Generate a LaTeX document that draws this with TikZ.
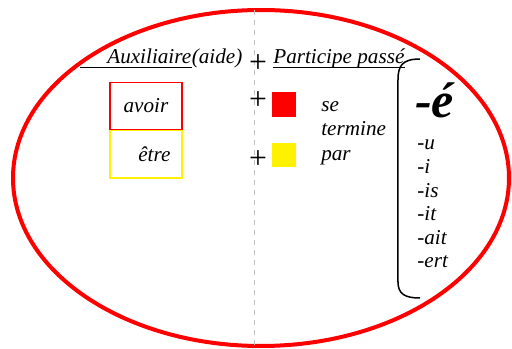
\documentclass[tikz,border=0pt]{standalone}
\usepackage{fontspec}
\setmainfont{Liberation Serif}
\usetikzlibrary{positioning}

\tikzset{
  txt/.style={font=\fontsize{12.7}{14}\selectfont\itshape, inner sep=0pt},
  plus/.style={font=\fontsize{19}{20}\selectfont, inner sep=0pt},
  auxbox/.style={txt, line width=0.9pt, minimum width=43.2pt, minimum height=28.5pt},
  colsq/.style={inner sep=0pt, minimum width=14.4pt, minimum height=14.7pt}
}

\begin{document}
\begin{tikzpicture}[x=0.6pt, y=-0.6pt]
        \useasboundingbox (0,0) rectangle (512,349);
        \draw[red, line width=2.4pt] (261,178) ellipse [x radius=248, y radius=168];
        \draw[gray!50, dashed, very thin] (254,10) -- (254,349);
        % titre
        \node[txt, anchor=base west] (aux) at (107,64) {Auxiliaire};
        \node[txt, anchor=base west] (aide) at (aux.base east) {(aide)};
        \node[plus] (p0) at (258,64) {+};
        \node[txt, anchor=base west] (pp) at (273,64) {Participe passé};
        \draw[thin] (80,67) -- (aux.base east |- 0,67);
        \draw[thin] (pp.base west |- 0,67) -- (pp.base east |- 0,67);
        % auxiliaires
        \node[auxbox, draw=red] (avoir) at (146,106) {avoir};
        \node[auxbox, draw=yellow] (etre) at (146,154.5) {\hspace{10pt}être};
        \node[plus] (p1) at (258,101) {+};
        \node[plus] (p2) at (258,160) {+};
        \node[colsq, fill=red] (sqr) at (284,104.5) {};
        \node[colsq, fill=yellow] (sqy) at (284,155) {};
        \node[txt, anchor=base west] (se) at (321,111) {se};
        \node[txt, anchor=base west] (termine) at (321,136) {termine};
        \node[txt, anchor=base west] (par) at (321,160) {par};
        % terminaisons
        \draw[line width=0.9pt] (420,59) .. controls (402,59) and (398,66) .. (398,80)
          -- (398,282) .. controls (398,294) and (405,298) .. (420,298);
        \node[inner sep=0pt, anchor=base west, font=\fontsize{30}{32}\selectfont\bfseries\itshape] (e) at (415,118) {-é};
        \foreach \t [count=\i from 0] in {u,i,is,it,ait,ert}
          \node[txt, anchor=base west] (t\i) at (417,150+23.6*\i) {-\t};
\end{tikzpicture}
\end{document}
